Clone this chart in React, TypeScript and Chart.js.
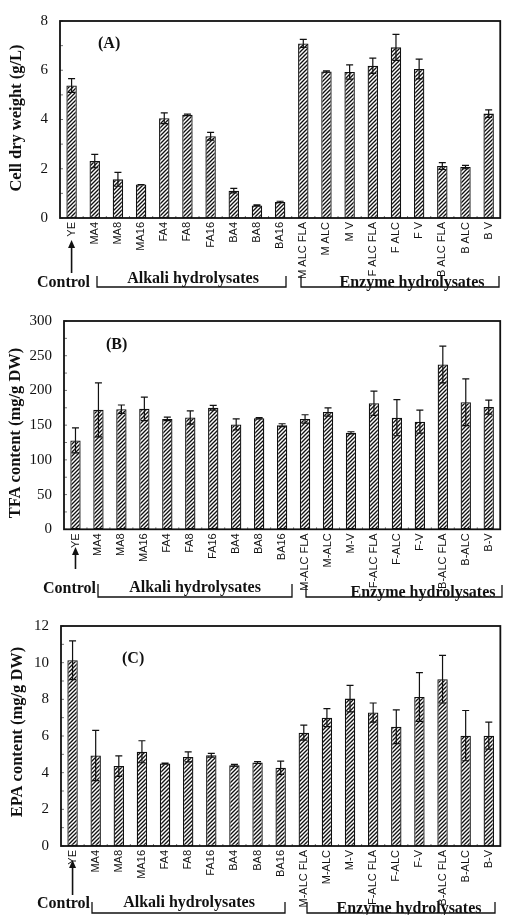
import React, { useEffect, useRef } from "react";
import { Chart, registerables } from "chart.js";

Chart.register(...registerables);

// ---------- data ----------
const labelsA = ["YE", "MA4", "MA8", "MA16", "FA4", "FA8", "FA16", "BA4", "BA8", "BA16", "M ALC FLA", "M ALC", "M V", "F ALC FLA", "F ALC", "F V", "B ALC FLA", "B ALC", "B V"];
const labelsBC = ["YE", "MA4", "MA8", "MA16", "FA4", "FA8", "FA16", "BA4", "BA8", "BA16", "M-ALC FLA", "M-ALC", "M-V", "F-ALC FLA", "F-ALC", "F-V", "B-ALC FLA", "B-ALC", "B-V"];

const cellDryWeight = [5.38, 2.31, 1.57, 1.36, 4.05, 4.19, 3.32, 1.11, 0.51, 0.65, 7.09, 5.95, 5.93, 6.18, 6.93, 6.05, 2.11, 2.07, 4.24];
const cellDryWeightErr = [0.28, 0.27, 0.28, 0.0, 0.22, 0.03, 0.16, 0.09, 0.02, 0.03, 0.16, 0.03, 0.29, 0.31, 0.53, 0.4, 0.14, 0.07, 0.15];

const tfaContent = [128, 172, 173, 173.5, 159, 161, 175, 151, 160, 150, 159, 169, 139, 181.5, 160.7, 155, 237.4, 183, 176];
const tfaErr = [18, 39, 6, 17, 2.5, 9.5, 3.5, 8, 1, 2, 6, 6, 1.5, 17.5, 26, 16.5, 26.5, 33.6, 10];

const epaContent = [10.13, 4.94, 4.36, 5.14, 4.5, 4.86, 4.95, 4.4, 4.56, 4.27, 6.18, 7.0, 8.04, 7.28, 6.5, 8.13, 9.1, 6.02, 6.02];
const epaErr = [1.06, 1.37, 0.56, 0.6, 0.02, 0.27, 0.1, 0.05, 0.05, 0.36, 0.41, 0.49, 0.72, 0.52, 0.92, 1.33, 1.3, 1.37, 0.74];

const yTitles = ["Cell dry weight (g/L)", "TFA content (mg/g DW)", "EPA content (mg/g DW)"];
const panelLetters = ["(A)", "(B)", "(C)"];
const groupLabels = ["Control", "Alkali hydrolysates", "Enzyme hydrolysates"];

// ---------- layout ----------
type Bracket = { l: number; r: number; line: number; tickTop: number; textX: number; textY: number };
type PanelCfg = {
  top: number;
  height: number;
  area: { left: number; top: number; right: number; bottom: number };
  labels: string[];
  values: number[];
  errors: number[];
  yMax: number;
  yStep: number;
  title: string;
  titleX: number;
  titleY: number;
  letter: string;
  letterX: number;
  letterY: number;
  arrowTip: number;
  arrowTail: number;
  controlRight: number;
  controlY: number;
  alkali: Bracket;
  enzyme: Bracket;
};

const panels: PanelCfg[] = [
  {
    top: 0, height: 300,
    area: { left: 60, top: 19, right: 500.5, bottom: 218 },
    labels: labelsA, values: cellDryWeight, errors: cellDryWeightErr,
    yMax: 8, yStep: 2,
    title: yTitles[0], titleX: 17, titleY: 118,
    letter: panelLetters[0], letterX: 98, letterY: 44,
    arrowTip: 240, arrowTail: 273,
    controlRight: 90, controlY: 283,
    alkali: { l: 97, r: 286, line: 287, tickTop: 276, textX: 193, textY: 279 },
    enzyme: { l: 301, r: 499, line: 287, tickTop: 276, textX: 412, textY: 283 },
  },
  {
    top: 300, height: 305,
    area: { left: 64, top: 318.3, right: 503.5, bottom: 529.3 },
    labels: labelsBC, values: tfaContent, errors: tfaErr,
    yMax: 300, yStep: 50,
    title: yTitles[1], titleX: 15.5, titleY: 433,
    letter: panelLetters[1], letterX: 106, letterY: 345,
    arrowTip: 547, arrowTail: 569,
    controlRight: 96, controlY: 589,
    alkali: { l: 98, r: 292, line: 597, tickTop: 584, textX: 195, textY: 588 },
    enzyme: { l: 306, r: 502, line: 597, tickTop: 585, textX: 423, textY: 593 },
  },
  {
    top: 605, height: 310,
    area: { left: 61, top: 624, right: 505.5, bottom: 846 },
    labels: labelsBC, values: epaContent, errors: epaErr,
    yMax: 12, yStep: 2,
    title: yTitles[2], titleX: 18, titleY: 732,
    letter: panelLetters[2], letterX: 122, letterY: 659,
    arrowTip: 860, arrowTail: 895,
    controlRight: 90, controlY: 904,
    alkali: { l: 92, r: 285, line: 913, tickTop: 902, textX: 189, textY: 903 },
    enzyme: { l: 307, r: 495, line: 913, tickTop: 902, textX: 409, textY: 909 },
  },
];

const BOLD_SERIF = 'bold 16px "Liberation Serif", "Times New Roman", serif';

function makeHatch(): CanvasPattern | string {
  const c = document.createElement("canvas");
  const s = 4;
  c.width = s;
  c.height = s;
  const g = c.getContext("2d");
  if (!g) return "#777";
  g.fillStyle = "#ffffff";
  g.fillRect(0, 0, s, s);
  g.strokeStyle = "#111111";
  g.lineWidth = 1.35;
  g.beginPath();
  g.moveTo(0, s);
  g.lineTo(s, 0);
  g.moveTo(-1, 1);
  g.lineTo(1, -1);
  g.moveTo(s - 1, s + 1);
  g.lineTo(s + 1, s - 1);
  g.stroke();
  const p = g.createPattern(c, "repeat");
  return p || "#777";
}

function drawBracket(ctx: CanvasRenderingContext2D, b: Bracket, off: number, text: string) {
  ctx.save();
  ctx.strokeStyle = "#111";
  ctx.lineWidth = 1.3;
  ctx.beginPath();
  ctx.moveTo(b.l, b.tickTop - off);
  ctx.lineTo(b.l, b.line - off);
  ctx.lineTo(b.r, b.line - off);
  ctx.lineTo(b.r, b.tickTop - off);
  ctx.stroke();
  ctx.fillStyle = "#111";
  ctx.font = BOLD_SERIF;
  ctx.textAlign = "center";
  ctx.textBaseline = "middle";
  ctx.fillText(text, b.textX, b.textY - off);
  ctx.restore();
}

function Panel({ cfg }: { cfg: PanelCfg }) {
  const ref = useRef<HTMLCanvasElement | null>(null);

  useEffect(() => {
    const canvas = ref.current;
    if (!canvas) return;
    const off = cfg.top;
    const hatch = makeHatch();
    const xAxisH = cfg.top + cfg.height - cfg.area.bottom;

    const decor = {
      id: "decor" + cfg.letter.replace(/[()]/g, ""),
      afterDatasetsDraw(chart: any) {
        const ctx: CanvasRenderingContext2D = chart.ctx;
        const meta = chart.getDatasetMeta(0);
        const ys = chart.scales.y;
        ctx.save();
        ctx.strokeStyle = "#111";
        ctx.lineWidth = 1.2;
        meta.data.forEach((bar: any, i: number) => {
          const v = cfg.values[i];
          const e = cfg.errors[i];
          const x = bar.x;
          const yt = ys.getPixelForValue(v + e);
          const yb = ys.getPixelForValue(v - e);
          ctx.beginPath();
          ctx.moveTo(x, yt);
          ctx.lineTo(x, yb);
          ctx.moveTo(x - 3.5, yt);
          ctx.lineTo(x + 3.5, yt);
          ctx.moveTo(x - 3.5, yb);
          ctx.lineTo(x + 3.5, yb);
          ctx.stroke();
        });
        ctx.restore();
      },
      afterDraw(chart: any) {
        const ctx: CanvasRenderingContext2D = chart.ctx;
        const a = chart.chartArea;
        const xs = chart.scales.x;
        const ys = chart.scales.y;
        ctx.save();
        // inward minor/major ticks on y
        ctx.strokeStyle = "#777";
        ctx.lineWidth = 1;
        for (let v = 0; v <= cfg.yMax + 1e-9; v += cfg.yStep / 2) {
          const y = ys.getPixelForValue(v);
          ctx.beginPath();
          ctx.moveTo(a.left, y);
          ctx.lineTo(a.left + 3, y);
          ctx.stroke();
        }
        // small marks between categories
        for (let i = 1; i < cfg.labels.length; i++) {
          const x = (xs.getPixelForValue(i - 1) + xs.getPixelForValue(i)) / 2;
          ctx.beginPath();
          ctx.moveTo(x, a.bottom);
          ctx.lineTo(x, a.bottom - 2);
          ctx.stroke();
        }
        // frame
        ctx.strokeStyle = "#111";
        ctx.lineWidth = 1.8;
        ctx.strokeRect(a.left, a.top, a.right - a.left, a.bottom - a.top);

        // y title
        ctx.fillStyle = "#111";
        ctx.font = 'bold 16.5px "Liberation Serif", "Times New Roman", serif';
        ctx.textAlign = "center";
        ctx.textBaseline = "middle";
        ctx.save();
        ctx.translate(cfg.titleX, cfg.titleY - off);
        ctx.rotate(-Math.PI / 2);
        ctx.fillText(cfg.title, 0, 0);
        ctx.restore();

        // panel letter
        ctx.font = BOLD_SERIF;
        ctx.textAlign = "left";
        ctx.fillText(cfg.letter, cfg.letterX, cfg.letterY - off);

        // arrow to control
        const ax = xs.getPixelForValue(0);
        ctx.strokeStyle = "#111";
        ctx.lineWidth = 1.6;
        ctx.beginPath();
        ctx.moveTo(ax, cfg.arrowTail - off);
        ctx.lineTo(ax, cfg.arrowTip - off + 6);
        ctx.stroke();
        ctx.beginPath();
        ctx.moveTo(ax, cfg.arrowTip - off);
        ctx.lineTo(ax - 3.5, cfg.arrowTip - off + 8);
        ctx.lineTo(ax + 3.5, cfg.arrowTip - off + 8);
        ctx.closePath();
        ctx.fill();

        // control label
        ctx.textAlign = "right";
        ctx.fillText(groupLabels[0], cfg.controlRight, cfg.controlY - off);

        drawBracket(ctx, cfg.alkali, off, groupLabels[1]);
        drawBracket(ctx, cfg.enzyme, off, groupLabels[2]);
        ctx.restore();
      },
    };

    const chart = new Chart(canvas, {
      type: "bar",
      data: {
        labels: cfg.labels,
        datasets: [
          {
            data: cfg.values,
            backgroundColor: hatch as any,
            borderColor: "#111",
            borderWidth: 1.3,
            borderSkipped: false,
            barPercentage: 0.45,
            categoryPercentage: 1,
          },
        ],
      },
      options: {
        responsive: false,
        animation: false,
        devicePixelRatio: 1,
        layout: {
          padding: {
            left: 0,
            top: cfg.area.top - cfg.top,
            right: 506 - cfg.area.right,
            bottom: 0,
          },
        },
        plugins: {
          legend: { display: false },
          tooltip: { enabled: false },
        },
        scales: {
          x: {
            type: "category",
            offset: true,
            grid: { display: false, drawTicks: false },
            border: { display: false },
            ticks: {
              autoSkip: false,
              minRotation: 90,
              maxRotation: 90,
              padding: 4,
              color: "#111",
              font: { family: '"Liberation Sans", Arial, sans-serif', size: 11 },
            },
            afterFit: (s: any) => {
              s.height = xAxisH;
            },
          },
          y: {
            min: 0,
            max: cfg.yMax,
            grid: { display: false, drawTicks: false },
            border: { display: false },
            ticks: {
              stepSize: cfg.yStep,
              padding: 12,
              color: "#111",
              font: { family: '"Liberation Serif", "Times New Roman", serif', size: 15 },
            },
            afterFit: (s: any) => {
              s.width = cfg.area.left;
            },
          },
        },
      } as any,
      plugins: [decor],
    });
    return () => chart.destroy();
  }, [cfg]);

  return (
    <canvas
      ref={ref}
      width={506}
      height={cfg.height}
      style={{ position: "absolute", left: 0, top: cfg.top, width: 506, height: cfg.height }}
    />
  );
}

export default function App() {
  return (
    <div style={{ position: "absolute", left: 0, top: 0, width: 506, height: 915, background: "#fff" }}>
      {panels.map((p) => (
        <Panel key={p.letter} cfg={p} />
      ))}
    </div>
  );
}
